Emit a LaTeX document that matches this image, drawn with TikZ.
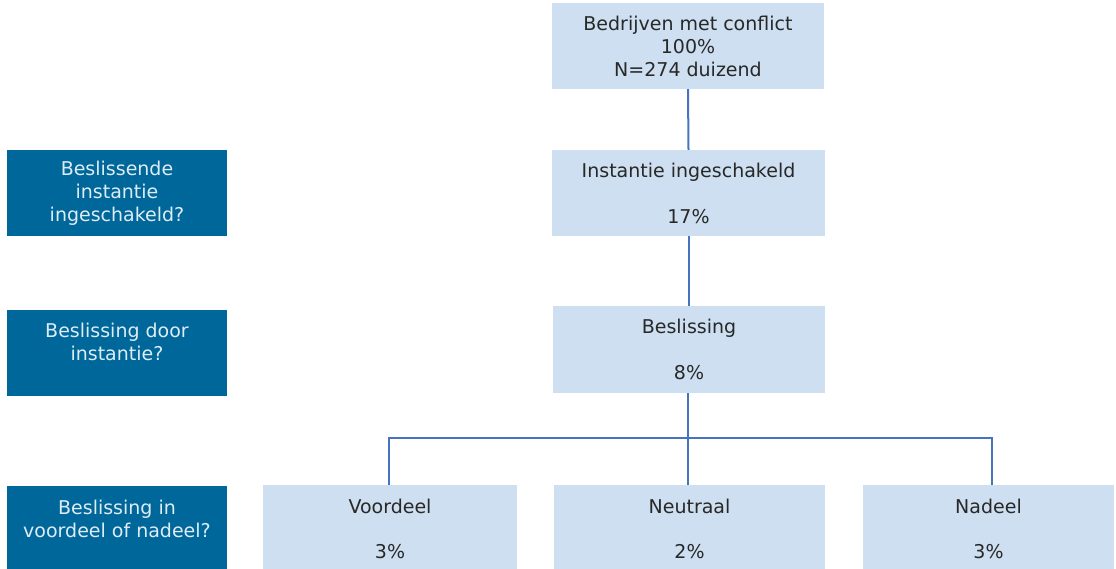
\documentclass[tikz,border=0pt]{standalone}
\usepackage{fontspec}
\setmainfont{DejaVu Sans}
\definecolor{lightbox}{RGB}{205,223,240}
\definecolor{darkbox}{RGB}{0,103,154}
\definecolor{darktext}{RGB}{222,236,246}
\definecolor{linec}{RGB}{70,115,190}
\definecolor{txt}{RGB}{40,40,40}
\begin{document}
\begin{tikzpicture}[x=1pt,y=-1pt,
  lbox/.style={fill=lightbox, draw=none, inner sep=0pt, align=center, text=txt,
    font=\fontsize{19}{23}\selectfont},
  dbox/.style={fill=darkbox, draw=none, inner sep=0pt, align=center, text=darktext,
    font=\fontsize{19}{23}\selectfont, minimum width=220pt, minimum height=86pt},
  conn/.style={draw=linec, line width=2pt, line join=miter}]
\useasboundingbox (0,0) rectangle (1116,568);
% main boxes
\node[lbox, minimum width=272pt, minimum height=86pt] (top) at (688,46) {Bedrijven met conflict\\100\%\\N=274 duizend};
\node[lbox, minimum width=273pt, minimum height=86pt] (inst) at (688.5,193) {Instantie ingeschakeld\\[23pt]17\%};
\node[lbox, minimum width=272pt, minimum height=87pt] (besl) at (689,349.5) {Beslissing\\[23pt]8\%};
\node[lbox, minimum width=254pt, minimum height=88pt] (voor) at (390,529) {Voordeel\\[22pt]3\%};
\node[lbox, minimum width=271pt, minimum height=88pt] (neut) at (689.5,529) {Neutraal\\[22pt]2\%};
\node[lbox, minimum width=251pt, minimum height=88pt] (nade) at (988.5,529) {Nadeel\\[22pt]3\%};
% left question boxes
\node[dbox] (q1) at (117,193) {Beslissende\\instantie\\ingeschakeld?};
\node[dbox] (q2) at (117,353) {Beslissing door\\instantie?\\\mbox{}};
\node[dbox, minimum height=88pt] (q3) at (117,530) {Beslissing in\\voordeel of nadeel?\\\mbox{}};
% connectors
\coordinate (split) at (688,438);
\coordinate (lsplit) at (389,438);
\coordinate (rsplit) at (992,438);
\draw[conn] (top.south) -- (inst.north);
\draw[conn] (inst.south) -- (inst.south |- besl.north);
\draw[conn] (688,393) -- (split |- neut.north);
\draw[conn] (lsplit |- voor.north) -- (lsplit) -- (rsplit) -- (rsplit |- nade.north);
\end{tikzpicture}
\end{document}
